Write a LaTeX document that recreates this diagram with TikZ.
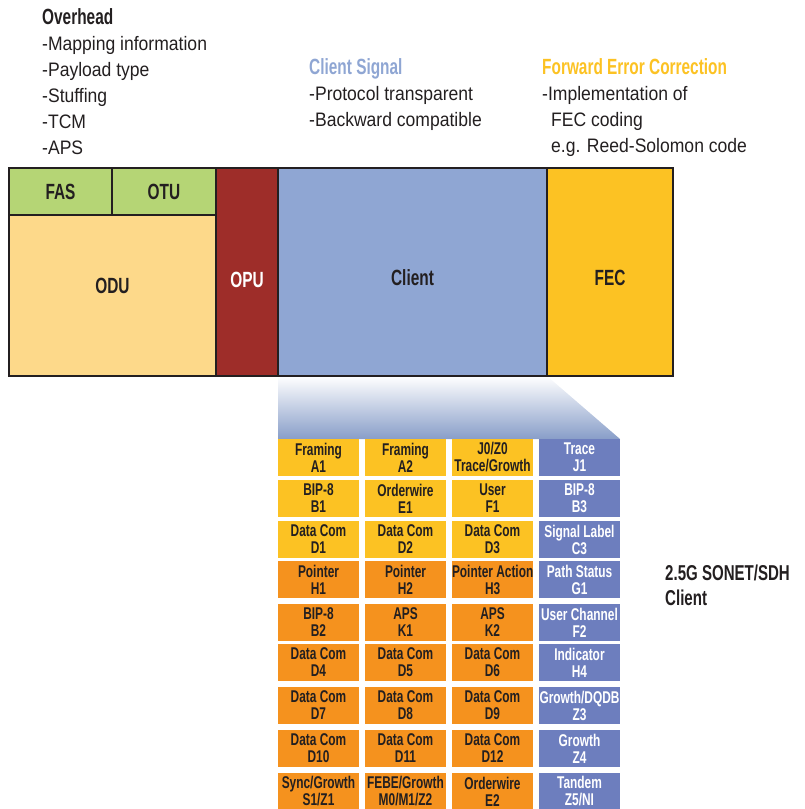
\documentclass[tikz,border=0pt]{standalone}
\usepackage{fontspec}
\setmainfont[FakeStretch=0.9, BoldFeatures={FakeStretch=0.7}]{Liberation Sans}
\definecolor{otnink}{RGB}{35, 31, 32}
\definecolor{otngreen}{RGB}{181, 213, 117}
\definecolor{otnsand}{RGB}{253, 217, 138}
\definecolor{otnred}{RGB}{158, 45, 41}
\definecolor{otnblue}{RGB}{143, 166, 211}
\definecolor{otnyellow}{RGB}{252, 194, 35}
\definecolor{otnorange}{RGB}{245, 146, 30}
\definecolor{otnviolet}{RGB}{109, 126, 190}
\usetikzlibrary{backgrounds}
\tikzset{
  % Frame field (top row of the OTN frame).
  field/.style={
    rectangle, draw=otnink, line width=2.6pt,
    fill=#1, anchor=north west,
    inner sep=0pt, outer sep=0pt,
    align=center, text=otnink,
    font=\bfseries\fontsize{22}{24}\selectfont,
  },
  % Overhead byte cell of the SONET/SDH frame.
  cell/.style={
    rectangle, fill=#1, anchor=north west,
    minimum width=81pt, minimum height=37pt,
    inner sep=0pt, outer sep=0pt,
    align=center, text=otnink,
    font=\bfseries\fontsize{17}{17}\selectfont,
  },
  cell-yellow/.style={cell=otnyellow},
  cell-orange/.style={cell=otnorange},
  cell-violet/.style={cell=otnviolet, text=white},
  % Explanatory text blocks.
  note/.style={
    anchor=north west, inner sep=0pt, align=left,
    text=otnink, font=\fontsize{19.5}{26}\selectfont,
  },
  note-title/.style={font=\bfseries\fontsize{22}{26}\selectfont},
}

\begin{document}
\begin{tikzpicture}[x=1pt, y=-1pt]
  \useasboundingbox (0,0) rectangle (804,809);

  % Notes above the frame.
  \node[note] (overhead) at (42,8) {%
    {\bfseries\fontsize{22}{26}\selectfont Overhead}\\
    -Mapping information\\
    -Payload type\\
    -Stuffing\\
    -TCM\\
    -APS%
  };
  \node[note] (signal) at (309,58) {%
    {\bfseries\fontsize{22}{26}\selectfont\color{otnblue}Client Signal}\\
    -Protocol transparent\\
    -Backward compatible%
  };
  \node[note] (fecnote) at (542,58) {%
    {\bfseries\fontsize{22}{26}\selectfont\color{otnyellow}Forward Error Correction}\\
    -Implementation of\\
    \hspace{9pt}FEC coding\\
    \hspace{9pt}e.g. Reed-Solomon code%
  };

  % OTN frame.
  \node[field=otngreen, minimum width=103pt, minimum height=47pt] (fas) at (9,168) {FAS};
  \node[field=otngreen, minimum width=104pt, minimum height=47pt] (otu) at (112,168) {OTU};
  \node[field=otnsand, minimum width=207pt, minimum height=161pt] (odu) at (9,215)
    {\raisebox{10pt}[\height][\depth]{ODU}};
  \node[field=otnred, text=white, minimum width=62pt, minimum height=208pt] (opu) at (216,168)
    {\raisebox{-8pt}[\height][\depth]{OPU}};
  \node[field=otnblue, minimum width=269pt, minimum height=208pt] (client) at (278,168)
    {\raisebox{-6pt}[\height][\depth]{Client}};
  \node[field=otnyellow, minimum width=126pt, minimum height=208pt] (fec) at (547,168)
    {\raisebox{-6pt}[\height][\depth]{FEC}};

  % SONET/SDH overhead bytes.
  \node[cell-yellow] (a1) at (278,439) {Framing\\A1};
  \node[cell-yellow] (a2) at (365,439) {Framing\\A2};
  \node[cell-yellow] (j0) at (452,439) {J0/Z0\\Trace/Growth};
  \node[cell-violet] (j1) at (539,439) {Trace\\J1};

  \node[cell-yellow] (b1) at (278,480) {BIP-8\\B1};
  \node[cell-yellow] (e1) at (365,480) {Orderwire\\E1};
  \node[cell-yellow] (f1) at (452,480) {User\\F1};
  \node[cell-violet] (b3) at (539,480) {BIP-8\\B3};

  \node[cell-yellow] (d1) at (278,521) {Data Com\\D1};
  \node[cell-yellow] (d2) at (365,521) {Data Com\\D2};
  \node[cell-yellow] (d3) at (452,521) {Data Com\\D3};
  \node[cell-violet] (c3) at (539,521) {Signal Label\\C3};

  \node[cell-orange] (h1) at (278,561) {Pointer\\H1};
  \node[cell-orange] (h2) at (365,561) {Pointer\\H2};
  \node[cell-orange] (h3) at (452,561) {Pointer Action\\H3};
  \node[cell-violet] (g1) at (539,561) {Path Status\\G1};

  \node[cell-orange] (b2) at (278,604) {BIP-8\\B2};
  \node[cell-orange] (k1) at (365,604) {APS\\K1};
  \node[cell-orange] (k2) at (452,604) {APS\\K2};
  \node[cell-violet] (f2) at (539,604) {User Channel\\F2};

  \node[cell-orange] (d4) at (278,644) {Data Com\\D4};
  \node[cell-orange] (d5) at (365,644) {Data Com\\D5};
  \node[cell-orange] (d6) at (452,644) {Data Com\\D6};
  \node[cell-violet] (h4) at (539,644) {Indicator\\H4};

  \node[cell-orange] (d7) at (278,687) {Data Com\\D7};
  \node[cell-orange] (d8) at (365,687) {Data Com\\D8};
  \node[cell-orange] (d9) at (452,687) {Data Com\\D9};
  \node[cell-violet] (z3) at (539,687) {Growth/DQDB\\Z3};

  \node[cell-orange] (d10) at (278,730) {Data Com\\D10};
  \node[cell-orange] (d11) at (365,730) {Data Com\\D11};
  \node[cell-orange] (d12) at (452,730) {Data Com\\D12};
  \node[cell-violet] (z4) at (539,730) {Growth\\Z4};

  \node[cell-orange] (s1) at (278,773) {Sync/Growth\\S1/Z1};
  \node[cell-orange] (m0) at (365,773) {FEBE/Growth\\M0/M1/Z2};
  \node[cell-orange] (e2) at (452,773) {Orderwire\\E2};
  \node[cell-violet] (z5) at (539,773) {Tandem\\Z5/NI};

  % Caption of the byte map.
  \node[note, font=\bfseries\fontsize{21.5}{25}\selectfont] (sonet) at (665,565)
    {2.5G SONET/SDH\\Client};

  % Zoom wedge from the client field to the byte map.
  \begin{scope}[on background layer]
    \shade[top color=white, bottom color=otnblue!95!black]
      (client.south west) -- (client.south east) -- (j1.north east) -- (a1.north west) -- cycle;
  \end{scope}

\end{tikzpicture}
\end{document}
